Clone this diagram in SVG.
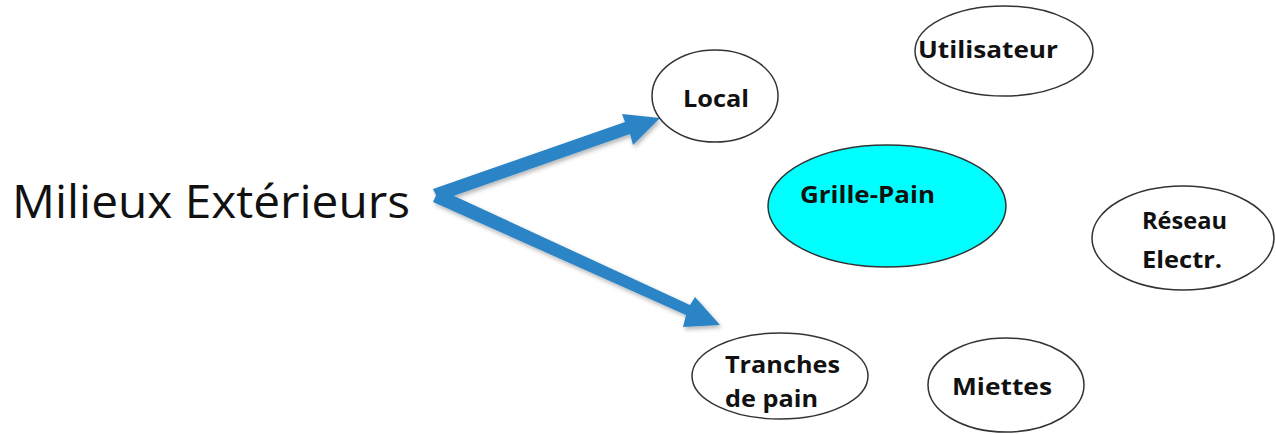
<svg xmlns="http://www.w3.org/2000/svg" width="1276" height="434" viewBox="0 0 1276 434">
  <defs>
    <filter id="shadow" x="-10%" y="-20%" width="130%" height="150%">
      <feDropShadow dx="1.5" dy="2.5" stdDeviation="2" flood-color="#000" flood-opacity="0.3"/>
    </filter>
    <style>
      .node { fill: #ffffff; stroke: #333333; stroke-width: 1.5; }
      .main { fill: #00ffff; }
      .lbl { font-family: "Open Sans", "Liberation Sans", sans-serif; font-weight: bold; font-size: 23px; fill: #111111; }
      .title { font-family: "Open Sans", "Liberation Sans", sans-serif; font-size: 45px; fill: #111111; }
      .arrow { fill: #2c84c6; }
    </style>
  </defs>

  <text class="title" x="12" y="218" textLength="398" lengthAdjust="spacingAndGlyphs">Milieux Extérieurs</text>

  <g id="connectors" filter="url(#shadow)">
    <!-- upper arrow towards Local -->
    <polygon class="arrow" points="433,189 625,122 622,114 660,118 633,145 630,134 439,201"/>
    <!-- lower arrow towards Tranches de pain -->
    <polygon class="arrow" points="439,189 690,305 695,297 720,325 683,327 686,315 433,202"/>
  </g>

  <g id="local">
    <ellipse class="node" cx="715" cy="96" rx="63" ry="46"/>
    <text class="lbl" x="683" y="107" textLength="66" lengthAdjust="spacingAndGlyphs">Local</text>
  </g>

  <g id="utilisateur">
    <ellipse class="node" cx="1004" cy="51" rx="89" ry="45"/>
    <text class="lbl" x="918" y="58" textLength="140" lengthAdjust="spacingAndGlyphs">Utilisateur</text>
  </g>

  <g id="grille-pain">
    <ellipse class="node main" cx="887" cy="206" rx="119" ry="61"/>
    <text class="lbl" x="800" y="203" textLength="135" lengthAdjust="spacingAndGlyphs">Grille-Pain</text>
  </g>

  <g id="reseau">
    <ellipse class="node" cx="1183" cy="238" rx="91" ry="52"/>
    <text class="lbl" x="1142" y="229" textLength="85" lengthAdjust="spacingAndGlyphs">Réseau</text>
    <text class="lbl" x="1142" y="268" textLength="80" lengthAdjust="spacingAndGlyphs">Electr.</text>
  </g>

  <g id="tranches">
    <ellipse class="node" cx="780" cy="376" rx="88" ry="43"/>
    <text class="lbl" x="725" y="373" textLength="115" lengthAdjust="spacingAndGlyphs">Tranches</text>
    <text class="lbl" x="725" y="407" textLength="93" lengthAdjust="spacingAndGlyphs">de pain</text>
  </g>

  <g id="miettes">
    <ellipse class="node" cx="1006" cy="385" rx="78" ry="47"/>
    <text class="lbl" x="952" y="395" textLength="100" lengthAdjust="spacingAndGlyphs">Miettes</text>
  </g>
</svg>
